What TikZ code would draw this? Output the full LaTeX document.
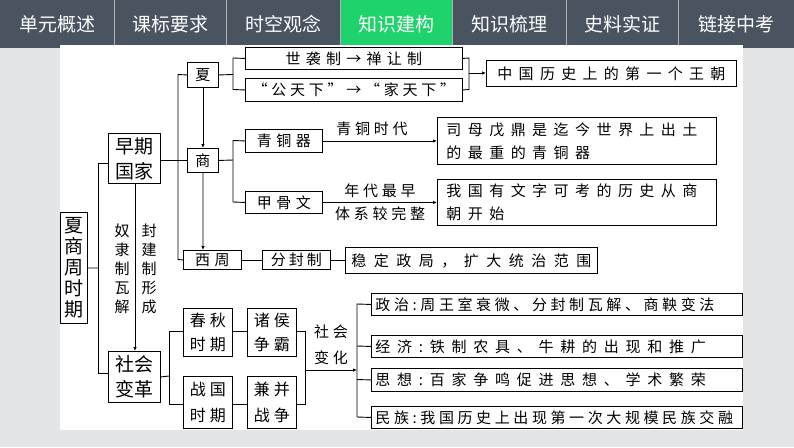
\documentclass[tikz,border=0pt]{standalone}
\usepackage{fontspec}
\setmainfont{Noto Sans CJK SC}
\newfontfamily\cjk{Noto Sans CJK SC}
\usetikzlibrary{arrows.meta}
\newcommand{\ls}[2]{{\addfontfeature{LetterSpace=#1}#2}}
\definecolor{bar}{HTML}{4A5461}
\definecolor{tabgreen}{HTML}{1ED36B}
\definecolor{bg}{HTML}{E4E5E6}
\tikzset{
 bx/.style={draw=black,line width=0.9pt,fill=white,inner sep=0pt,font=\fontsize{15}{17}\selectfont,anchor=north west},
 rw/.style={bx,minimum width=371pt,text width=363pt,align=left},
 tt/.style={draw=black,line width=0.9pt,fill=white,inner sep=0pt,font=\fontsize{19}{25}\selectfont,align=center,anchor=north west},
 ln/.style={line width=0.9pt},
 ar/.style={line width=0.9pt,-{Latex[length=4pt,width=3.5pt]}},
 lbl/.style={font=\fontsize{15}{17}\selectfont,inner sep=0pt},
 tab/.style={text=white,font=\fontsize{19}{21}\selectfont,inner sep=0pt}
}
\begin{document}
\begin{tikzpicture}[x=1pt,y=-1pt]
\useasboundingbox (0,0) rectangle (794,447);
\fill[bg] (0,0) rectangle (794,447);
\fill[bar] (0,0) rectangle (794,48);
\fill[tabgreen] (340,0) rectangle (452,48);
\foreach \xx in {114,226,340,452,566,678}{\draw[gray!60,line width=0.8pt] (\xx,0)--(\xx,48);}
\foreach \t/\c [count=\i] in {单元概述/57,课标要求/170,时空观念/283,知识建构/396,知识梳理/509,史料实证/622,链接中考/736}
  {\node[tab] (tab\i) at (\c,24) {\t};}
\fill[white] (60,45) rectangle (743,430);
% left title boxes
\node[tt,minimum width=27pt,minimum height=111pt] (xs) at (60,212) {夏\\[-4pt]商\\[-4pt]周\\[-4pt]时\\[-4pt]期};
\node[tt,minimum width=52pt,minimum height=50pt] (zq) at (108,133) {早期\\国家};
\node[tt,minimum width=52pt,minimum height=51pt] (sh) at (108,351) {社会\\变革};
\coordinate (v1t) at (98,163); \coordinate (v1b) at (98,373);
\draw[ln] (xs.east) -- (98,268);
\draw[ln] (zq.west|-v1t) -- (v1t) -- (v1b) -- (sh.west|-v1b);
\draw[ar] (135,183) -- (135,351);
\node[lbl,align=center,font=\fontsize{15}{19}\selectfont,anchor=north] (nl) at (122,224) {奴\\隶\\制\\瓦\\解};
\node[lbl,align=center,font=\fontsize{15}{19}\selectfont,anchor=north] (fj) at (149,224) {封\\建\\制\\形\\成};
% dynasties
\node[bx,minimum width=31pt,minimum height=25pt] (xia) at (187,62) {夏};
\node[bx,minimum width=31pt,minimum height=24pt] (shang) at (187,148) {商};
\node[bx,minimum width=58pt,minimum height=19pt] (xz) at (183,250) {\ls{30}{西周}};
\draw[ln] (zq.east|-shang.west) -- (shang.west);
\draw[ln] (xia.west) -- (178,74.5) -- (178,259.5) -- (xz.west);
\draw[ar] (xia.south) -- (shang.north);
\draw[ar] (shang.south) -- (203,250);
% xia
\node[bx,minimum width=217pt,minimum height=22pt] (sx) at (245,47) {\ls{35}{世袭制→禅让制}};
\node[bx,minimum width=217pt,minimum height=23pt] (gt) at (245,78) {\ls{25}{“公天下”→“家天下”}};
\node[bx,minimum width=250pt,minimum height=26pt] (zg) at (486,60) {\ls{42}{中国历史上的第一个王朝}};
\draw[ln] (xia.east) -- (233,74.5);
\draw[ln] (sx.west) -- (233,58) -- (233,89.5) -- (gt.west);
\draw[ln] (sx.east) -- (469,58) -- (469,89.5) -- (gt.east);
\draw[ar] (469,73) -- (zg.west|-0,73);
% shang
\node[bx,minimum width=77pt,minimum height=23pt] (qt) at (245,129) {\ls{30}{青铜器}};
\node[bx,minimum width=77pt,minimum height=22pt] (jg) at (245,191) {\ls{30}{甲骨文}};
\draw[ln] (shang.east) -- (233,160);
\draw[ln] (qt.west) -- (233,140.5) -- (233,202) -- (jg.west);
\node[bx,minimum width=279pt,minimum height=47pt,align=left,text width=265pt,font=\fontsize{15}{23}\selectfont] (smw) at (437,117) {\hspace*{2pt}\ls{43}{司母戊鼎是迄今世界上出土}\\\hspace*{2pt}\ls{43}{的最重的青铜器}};
\node[bx,minimum width=279pt,minimum height=46pt,align=left,text width=265pt,font=\fontsize{15}{23}\selectfont] (wg) at (437,179) {\hspace*{2pt}\ls{43}{我国有文字可考的历史从商}\\\hspace*{2pt}\ls{43}{朝开始}};
\draw[ar] (qt.east) -- (smw.west|-qt.east);
\draw[ar] (jg.east) -- (wg.west|-jg.east);
\node[lbl] (qtsd) at (372,129) {\ls{25}{青铜时代}};
\node[lbl] (nd) at (380,191) {\ls{25}{年代最早}};
\node[lbl] (tx) at (380,214) {\ls{25}{体系较完整}};
% zhou
\node[bx,minimum width=68pt,minimum height=19pt] (ff) at (262,250) {\ls{20}{分封制}};
\node[bx,minimum width=252pt,minimum height=26pt] (wd) at (345,247) {\ls{50}{稳定政局，扩大统治范围}};
\draw[ln] (xz.east) -- (ff.west);
\draw[ln] (ff.east) -- (wd.west|-ff.east);
% shehui
\node[tt,minimum width=49pt,minimum height=48pt,font=\fontsize{16}{24}\selectfont] (cq) at (183,308) {\ls{25}{春秋}\\\ls{25}{时期}};
\node[tt,minimum width=49pt,minimum height=48pt,font=\fontsize{16}{24}\selectfont] (zh) at (247,308) {\ls{25}{诸侯}\\\ls{25}{争霸}};
\node[tt,minimum width=49pt,minimum height=52pt,font=\fontsize{16}{26}\selectfont] (zgsq) at (183,376) {\ls{25}{战国}\\\ls{25}{时期}};
\node[tt,minimum width=49pt,minimum height=52pt,font=\fontsize{16}{26}\selectfont] (jb) at (247,376) {\ls{25}{兼并}\\\ls{25}{战争}};
\draw[ln] (sh.east) -- (169,376);
\draw[ln] (cq.west|-0,331) -- (169,331) -- (169,404) -- (zgsq.west|-0,404);
\draw[ln] (cq.east|-0,331) -- (zh.west|-0,331);
\draw[ln] (zgsq.east|-0,404) -- (jb.west|-0,404);
\draw[ln] (zh.east|-0,331) -- (305,331) -- (305,404) -- (jb.east|-0,404);
\draw[ar] (305,370) -- (357,370);
\node[lbl,align=center,font=\fontsize{15}{26}\selectfont] (shbh) at (331,345) {\ls{25}{社会}\\\ls{25}{变化}};
\node[rw,minimum height=22pt] (zz) at (371,293) {\ls{24}{政治:周王室衰微、分封制瓦解、商鞅变法}};
\node[rw,minimum height=22pt] (jj) at (371,335) {\ls{45}{经济:铁制农具、牛耕的出现和推广}};
\node[rw,minimum height=23pt] (sx2) at (371,368) {\ls{45}{思想:百家争鸣促进思想、学术繁荣}};
\node[rw,minimum height=22pt] (mz) at (371,406) {\ls{24}{民族:我国历史上出现第一次大规模民族交融}};
\draw[ln] (zz.west) -- (357,304) -- (357,417) -- (mz.west);
\draw[ln] (357,346) -- (jj.west);
\draw[ln] (357,379.5) -- (sx2.west);
\end{tikzpicture}
\end{document}
